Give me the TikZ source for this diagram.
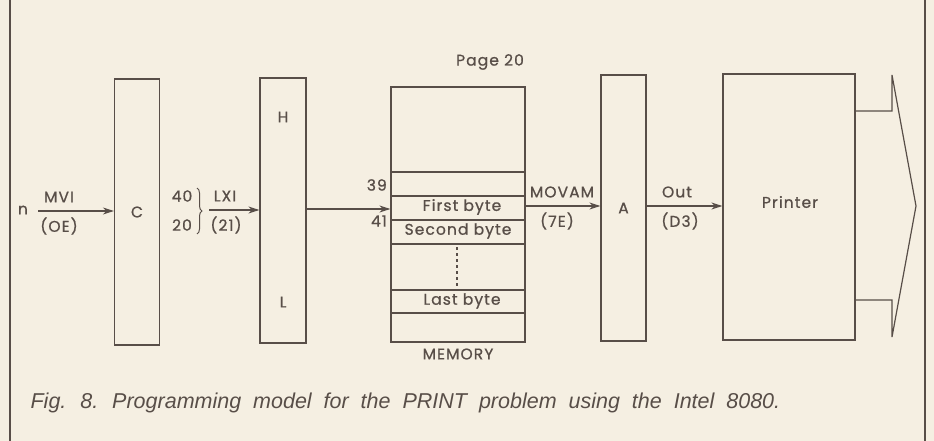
\documentclass[tikz,border=0pt]{standalone}
\usepackage{fontspec}
\setmainfont{Poppins}[FakeBold=0.8, LetterSpace=7]
\newfontfamily\capfont{Liberation Sans}[WordSpace=2]
\usepackage{tikz}
\usetikzlibrary{arrows.meta,positioning,decorations.pathreplacing}
\definecolor{paper}{RGB}{245,239,226}
\definecolor{ink}{RGB}{88,78,72}

\begin{document}
\begin{tikzpicture}[
    x=1pt, y=-1pt,
    line width=1.2pt, draw=ink, text=ink,
    font=\fontsize{15.5}{18}\selectfont,
    reg/.style={rectangle, draw=ink, minimum width=45pt, minimum height=266pt, inner sep=0pt},
    arrow/.style={-{Stealth[length=11pt,width=7pt]}, draw=ink},
    lbl/.style={inner sep=1pt, text=ink}
]
% Page
\fill[paper] (0,0) rectangle (934,441);
\useasboundingbox (0,0) rectangle (934,441);
\draw[ink] (10,0) -- (10,441);
\draw[ink] (925,0) -- (925,441);

% Registers and memory
\node[reg] (C) at (137,212) {C};
\node[reg, minimum width=46pt, minimum height=265pt] (HL) at (283,210.5) {};
\node[lbl] at (HL.center |- 0,117) {H};
\node[lbl] at (HL.center |- 0,302) {L};
\node[reg, minimum width=134pt, minimum height=255pt] (mem) at (458,214.5) {};
\node[reg] (A) at (623.5,208) {A};
\node[reg, minimum width=132pt] (prn) at (789,207) {};
\node[lbl] at (790,202) {Printer};

% Memory cells
\foreach \y in {172,196,220,244,290,313}
    \draw (mem.west |- 0,\y) -- (mem.east |- 0,\y);
\draw[dash pattern=on 3pt off 3pt, line width=1.2pt] (457,247) -- (457,288);
\node[lbl] (first) at (462,207) {First byte};
\node[lbl] (second) at (458,231) {Second byte};
\node[lbl] (last) at (462,301) {Last byte};
\coordinate (a39) at (mem.west |- 0,185);
\coordinate (a41) at (mem.west |- 0,221);
\node[lbl, left=2pt of a39] {39};
\node[lbl, left=2pt of a41] {41};
\node[lbl] at (490,62) {Page 20};
\node[lbl] at (458,354) {MEMORY};

% Load C
\node[lbl] (n) at (23,210) {n};
\coordinate (nend) at (38,211);
\draw[arrow] (nend) -- (nend -| C.west);
\node[lbl] at (59,197) {MVI};
\node[lbl] at (59,226) {(OE)};

% Load HL
\node[lbl] (h40) at (182,196) {40};
\node[lbl] (h20) at (182,225) {20};
\draw[decorate, decoration={brace, amplitude=5pt}, line width=1pt] (197,188) -- (197,234);
\coordinate (lxi) at (209,210);
\draw[arrow] (lxi) -- (lxi -| HL.west);
\node[lbl] at (225,196) {LXI};
\node[lbl] at (226,225) {(21)};

% Address to memory
\draw[arrow] (HL.east |- 0,209) -- (mem.west |- 0,209);

% Memory to A
\draw[arrow] (mem.east |- 0,206) -- (A.west |- 0,206);
\node[lbl] at (562,192) {MOVAM};
\node[lbl] at (557,221) {(7E)};

% A to printer
\draw[arrow] (A.east |- 0,206) -- (prn.west |- 0,206);
\node[lbl] at (677,192) {Out};
\node[lbl] at (680,221) {(D3)};

% Printer output
\draw (prn.east |- 0,111) -- (892,111) -- (892,75) -- (916,206)
    -- (892,337) -- (892,300) -- (prn.east |- 0,300);

% Caption
\node[anchor=base west, inner sep=0pt, font=\capfont\itshape\fontsize{21.5}{24}\selectfont]
    at (30,408) {Fig. 8. Programming model for the PRINT problem using the Intel 8080.};
\end{tikzpicture}
\end{document}
